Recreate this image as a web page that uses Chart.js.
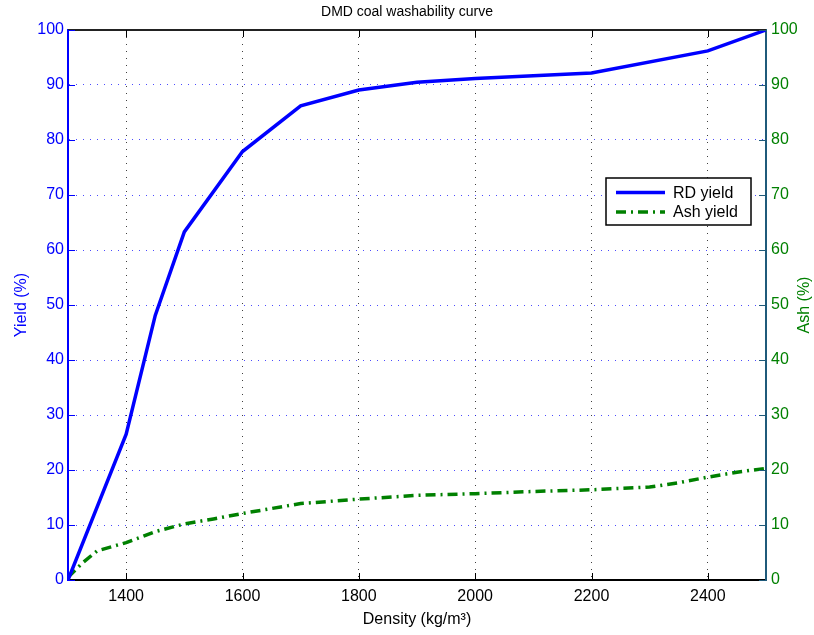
<!DOCTYPE html>
<html><head><meta charset="utf-8">
<script src="https://cdn.jsdelivr.net/npm/chart.js@4.4.1/dist/chart.umd.min.js"></script>
<style>html,body{margin:0;padding:0;background:#fff}#wrap{width:814px;height:635px;position:relative}</style>
</head><body><div id="wrap"><canvas id="c"></canvas></div>
<script>
// ---- data ----
const titleText = 'DMD coal washability curve';
const seriesNames = ['RD yield', 'Ash yield'];
const densityRD = [1300, 1400, 1450, 1500, 1600, 1700, 1800, 1900, 2000, 2200, 2400, 2500];
const rdYield   = [0, 26.5, 48.1, 63.3, 77.9, 86.2, 89.1, 90.5, 91.2, 92.2, 96.2, 100];
const densityAsh = [1300, 1325, 1350, 1400, 1450, 1500, 1550, 1600, 1650, 1700, 1800, 1900, 2000, 2100, 2200, 2300, 2350, 2400, 2450, 2500];
const ashYield   = [0.5, 3.1, 5.3, 6.8, 8.8, 10.2, 11.1, 12.1, 13.0, 13.9, 14.7, 15.4, 15.7, 16.1, 16.4, 16.9, 17.7, 18.7, 19.6, 20.3];
const xTickValues = [1400, 1600, 1800, 2000, 2200, 2400];
const yTickValues = [0, 10, 20, 30, 40, 50, 60, 70, 80, 90, 100];
const xTitle = 'Density (kg/m³)';
const yLeftTitle = 'Yield (%)';
const yRightTitle = 'Ash (%)';

const BLUE = '#0000ff', GREEN = '#008000', TEAL = '#1f5a7a';
const FONT = "'Liberation Sans', Arial, Helvetica, sans-serif";
Chart.defaults.font.family = FONT;
Chart.defaults.font.size = 16;

const extras = {
  id: 'extras',
  afterDraw(chart) {
    const {ctx, chartArea: a, scales} = chart;
    ctx.save();
    // top border
    ctx.strokeStyle = '#222'; ctx.lineWidth = 2; ctx.setLineDash([]);
    ctx.beginPath(); ctx.moveTo(a.left, a.top); ctx.lineTo(a.right, a.top); ctx.stroke();
    // inward ticks
    ctx.lineWidth = 1;
    ctx.strokeStyle = '#000';
    scales.x.ticks.forEach(t => {
      const px = Math.round(scales.x.getPixelForValue(t.value)) + 0.5;
      ctx.beginPath(); ctx.moveTo(px, a.bottom); ctx.lineTo(px, a.bottom - 7);
      ctx.moveTo(px, a.top); ctx.lineTo(px, a.top + 7); ctx.stroke();
    });
    ctx.strokeStyle = BLUE;
    scales.y.ticks.forEach(t => {
      const py = Math.round(scales.y.getPixelForValue(t.value)) + 0.5;
      ctx.beginPath(); ctx.moveTo(a.left, py); ctx.lineTo(a.left + 7, py); ctx.stroke();
    });
    ctx.strokeStyle = TEAL;
    scales.y2.ticks.forEach(t => {
      const py = Math.round(scales.y2.getPixelForValue(t.value)) + 0.5;
      ctx.beginPath(); ctx.moveTo(a.right, py); ctx.lineTo(a.right - 7, py); ctx.stroke();
    });
    // right axis title (reads bottom to top)
    ctx.fillStyle = GREEN;
    ctx.font = '16px ' + FONT;
    ctx.textAlign = 'center'; ctx.textBaseline = 'middle';
    ctx.translate(805, (a.top + a.bottom) / 2);
    ctx.rotate(-Math.PI / 2);
    ctx.fillText(yRightTitle, 0, 0);
    ctx.restore();

    // legend
    ctx.save();
    const bx = a.right - 160, by = a.top + 148, bw = 145, bh = 47;
    ctx.fillStyle = '#fff'; ctx.fillRect(bx, by, bw, bh);
    ctx.strokeStyle = '#000'; ctx.lineWidth = 1.5; ctx.strokeRect(bx, by, bw, bh);
    ctx.font = '16px ' + FONT; ctx.textAlign = 'left'; ctx.textBaseline = 'middle';
    chart.data.datasets.forEach((ds, i) => {
      const yy = by + 14.5 + i * 19.5;
      ctx.strokeStyle = ds.borderColor; ctx.lineWidth = ds.borderWidth;
      ctx.setLineDash(ds.borderDash || []);
      ctx.beginPath(); ctx.moveTo(bx + 10, yy); ctx.lineTo(bx + 59, yy); ctx.stroke();
      ctx.setLineDash([]);
      ctx.fillStyle = '#000';
      ctx.fillText(ds.label, bx + 67, yy + 1);
    });
    ctx.restore();
  }
};

new Chart(document.getElementById('c'), {
  type: 'line',
  data: {
    datasets: [
      { label: seriesNames[0], data: densityRD.map((x, i) => ({x, y: rdYield[i]})),
        borderColor: BLUE, backgroundColor: BLUE, borderWidth: 3.5, pointRadius: 0, tension: 0, yAxisID: 'y' },
      { label: seriesNames[1], data: densityAsh.map((x, i) => ({x, y: ashYield[i]})),
        borderColor: GREEN, backgroundColor: GREEN, borderWidth: 3.5, borderDash: [10, 5, 2, 5], pointRadius: 0, tension: 0, yAxisID: 'y2' }
    ]
  },
  options: {
    responsive: true, maintainAspectRatio: false, devicePixelRatio: 1, animation: false,
    layout: { padding: 0 },
    plugins: {
      legend: { display: false },
      tooltip: { enabled: false },
      title: { display: true, text: titleText, color: '#000', font: { size: 14, weight: 'normal' }, padding: { top: 4, bottom: 9.2 } }
    },
    scales: {
      x: {
        type: 'linear', min: 1300, max: 2500,
        afterBuildTicks: s => { s.ticks = xTickValues.map(v => ({value: v})); },
        afterFit: s => { s.height = 55; },
        ticks: { color: '#000', padding: 7, font: { size: 16 }, callback: v => String(v) },
        grid: { color: 'rgba(0,0,0,0.75)', lineWidth: 1, drawTicks: false },
        border: { display: true, color: '#000', width: 2, dash: [1, 6] },
        title: { display: true, text: xTitle, color: '#000', font: { size: 16 }, padding: { top: 0, bottom: 6 } }
      },
      y: {
        type: 'linear', position: 'left', min: 0, max: 100,
        afterBuildTicks: s => { s.ticks = yTickValues.map(v => ({value: v})); },
        afterFit: s => { s.width = 68; },
        ticks: { color: BLUE, padding: 4, font: { size: 16 }, callback: v => String(v) },
        grid: { color: 'rgba(30,30,255,0.8)', lineWidth: 1, drawTicks: false },
        border: { display: true, color: BLUE, width: 2, dash: [1, 6] },
        title: { display: true, text: yLeftTitle, color: BLUE, font: { size: 16 }, padding: { top: 12, bottom: 0 } }
      },
      y2: {
        type: 'linear', position: 'right', min: 0, max: 100,
        afterBuildTicks: s => { s.ticks = yTickValues.map(v => ({value: v})); },
        afterFit: s => { s.width = 48; },
        ticks: { color: GREEN, padding: 5, font: { size: 16 }, callback: v => String(v) },
        grid: { display: false, drawTicks: false },
        border: { display: true, color: TEAL, width: 2 }
      }
    }
  },
  plugins: [extras]
});
</script>
</body></html>
